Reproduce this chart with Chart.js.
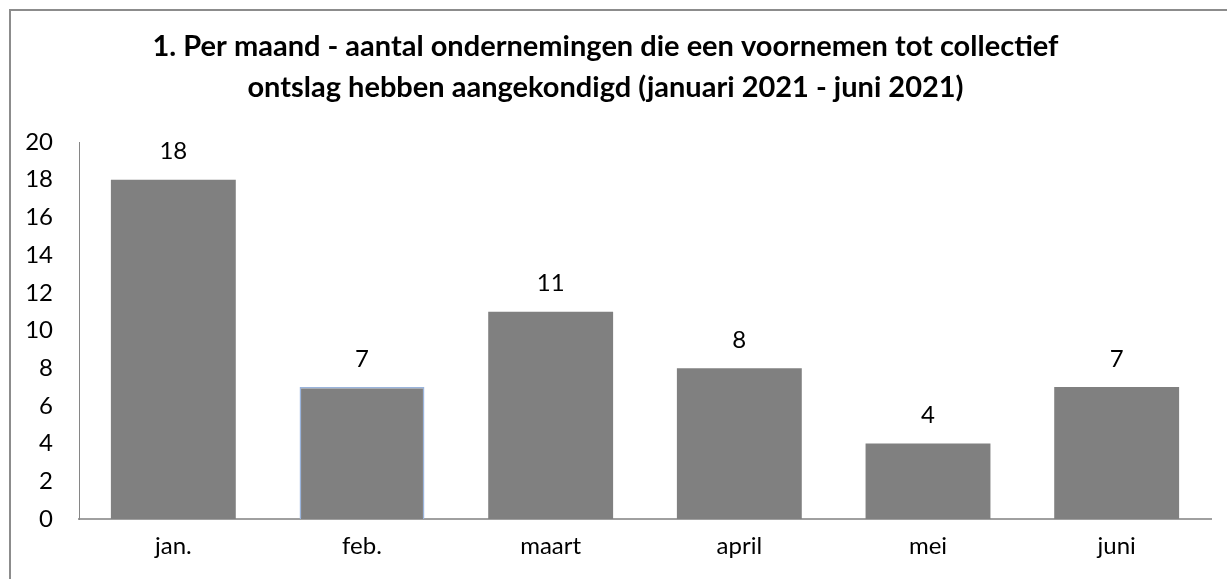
<!DOCTYPE html>
<html>
<head>
<meta charset="utf-8">
<script src="https://cdn.jsdelivr.net/npm/chart.js@4"></script>
<style>
  html, body { margin: 0; padding: 0; background: #fff; overflow: hidden; }
  #wrap { position: relative; width: 1227px; height: 579px; }
  #frame { position: absolute; left: 9px; top: 9px; width: 1400px; height: 800px;
           border-left: 2px solid #8c8c8c; border-top: 2px solid #8c8c8c; }
  canvas { position: absolute; left: 0; top: 0; }
</style>
</head>
<body>
<div id="wrap">
  <div id="frame"></div>
  <canvas id="c" width="1227" height="579"></canvas>
</div>
<script>
const titleLines = [
  "1. Per maand - aantal ondernemingen die een voornemen tot collectief",
  "ontslag hebben aangekondigd (januari 2021 - juni 2021)"
];
const categories = ["jan.", "feb.", "maart", "april", "mei", "juni"];
const values = [18, 7, 11, 8, 4, 7];
const yTicks = [0, 2, 4, 6, 8, 10, 12, 14, 16, 18, 20];

const FONT = "Lato, 'Open Sans', sans-serif";

const dataLabels = {
  id: 'dataLabels',
  afterDatasetsDraw(chart) {
    const ctx = chart.ctx;
    const meta = chart.getDatasetMeta(0);
    ctx.save();
    ctx.font = "24px " + FONT;
    ctx.fillStyle = "#000";
    ctx.textAlign = "center";
    ctx.textBaseline = "middle";
    meta.data.forEach((bar, i) => {
      ctx.fillText(String(values[i]), bar.x, bar.y - 28);
    });
    ctx.restore();
  }
};

new Chart(document.getElementById('c'), {
  type: 'bar',
  data: {
    labels: categories,
    datasets: [{
      data: values,
      backgroundColor: '#808080',
      borderColor: values.map((v, i) => i === 1 ? '#9ab4dc' : 'rgba(0,0,0,0)'),
      borderWidth: values.map((v, i) => i === 1 ? 1.5 : 0),
      categoryPercentage: 1,
      barPercentage: 0.662
    }]
  },
  options: {
    responsive: false,
    animation: false,
    devicePixelRatio: 1,
    layout: { padding: { left: 0, right: 16, top: 0, bottom: 0 } },
    plugins: {
      legend: { display: false },
      tooltip: { enabled: false },
      title: {
        display: true,
        text: titleLines,
        color: '#000',
        font: { family: FONT, size: 29, weight: 'bold', lineHeight: 1.414 },
        padding: { top: 26.5, bottom: 33.5 }
      }
    },
    scales: {
      x: {
        grid: { display: false, drawTicks: false },
        border: { display: true, color: '#a0a0a0', width: 2 },
        ticks: { color: '#000', font: { family: FONT, size: 24 }, padding: 13 },
        afterFit(scale) { scale.height = 60; }
      },
      y: {
        min: 0, max: 20,
        afterBuildTicks(scale) { scale.ticks = yTicks.map(v => ({ value: v })); },
        grid: { display: false, drawTicks: false },
        border: { display: true, color: '#868686', width: 1 },
        ticks: { color: '#000', font: { family: FONT, size: 24 }, padding: 26 },
        afterFit(scale) { scale.width = 79; }
      }
    }
  },
  plugins: [dataLabels]
});
</script>
</body>
</html>
